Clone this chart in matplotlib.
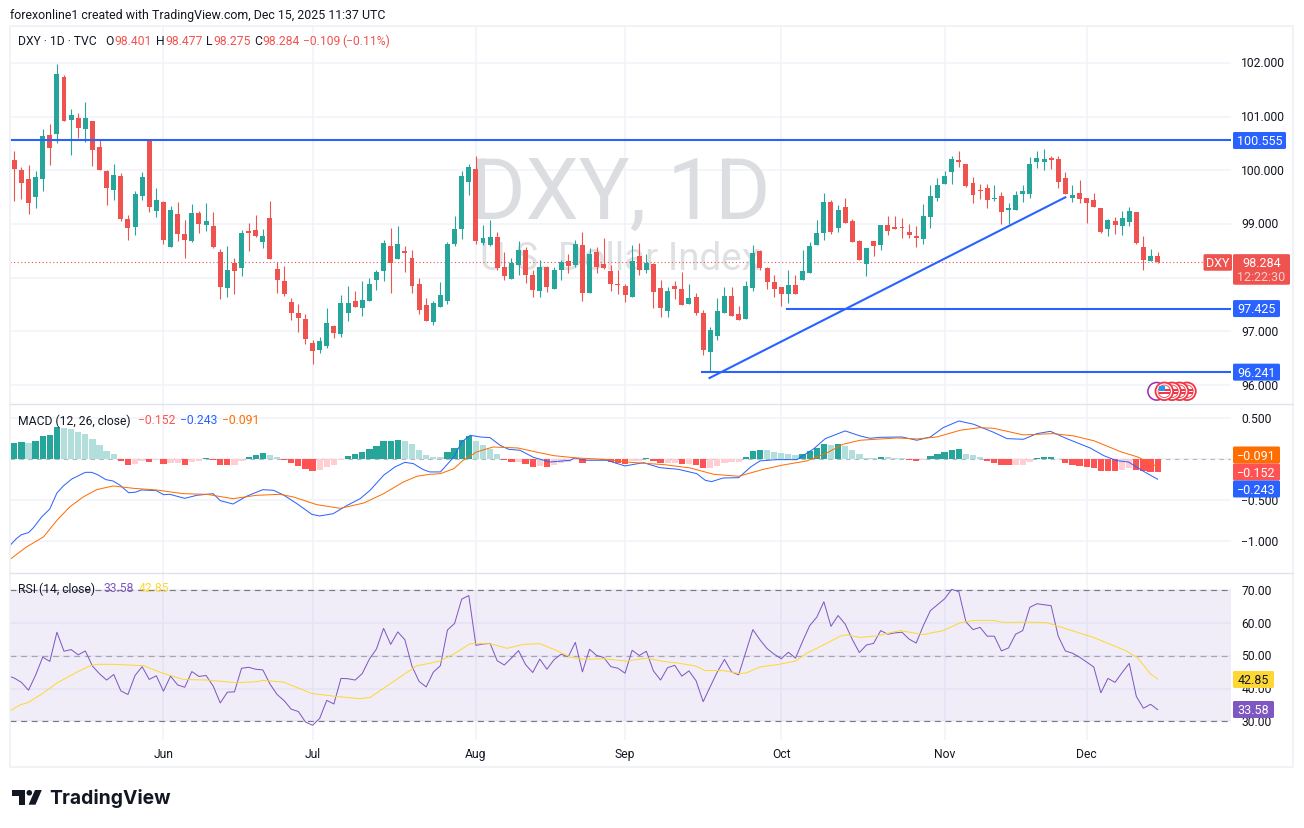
# -*- coding: utf-8 -*-
import numpy as np
import matplotlib
matplotlib.use('Agg')
from matplotlib import pyplot as plt
from matplotlib.patches import Rectangle, FancyBboxPatch, Circle, Polygon

plt.rcParams['font.family'] = ['Roboto', 'DejaVu Sans']

###图幅（像素）
W, H = 1304, 829
DPI = 100

###日线 OHLC
opens = [100.19,100.0,99.84,99.50,99.84,100.66,100.68,101.74,100.94,100.98,
         100.77,100.92,100.43,99.99,99.63,99.89,99.09,98.94,99.52,100.57,
         99.24,99.41,98.57,99.19,98.81,98.68,99.20,98.98,98.96,98.48,
         97.81,98.27,98.18,98.87,98.89,98.66,99.11,98.16,97.94,97.55,
         97.34,97.23,96.78,96.65,96.73,97.10,96.95,97.34,97.56,97.43,
         97.57,97.95,98.13,98.59,98.35,98.50,98.37,97.88,97.49,97.18,
         97.45,97.57,98.63,98.91,99.78,100.02,98.65,98.61,98.76,98.20,
         97.98,98.24,98.52,98.05,97.75,98.20,97.79,98.14,98.31,98.24,
         98.61,97.71,98.48,98.25,98.12,97.88,97.84,97.64,98.40,98.14,
         98.25,97.80,97.38,97.85,97.79,97.51,97.64,97.34,96.62,96.91,
         97.34,97.66,97.32,97.23,97.81,98.50,98.18,97.92,97.83,97.70,
         97.86,97.96,98.08,98.61,98.83,99.41,98.92,99.32,99.05,98.68,
         98.25,98.68,98.61,98.98,98.92,98.94,98.85,98.76,98.72,99.13,
         99.48,99.75,99.97,100.19,100.12,99.76,99.63,99.67,99.46,99.52,
         99.26,99.26,99.56,99.56,100.16,100.16,100.21,100.21,99.85,99.48,
         99.58,99.48,99.45,99.30,98.91,99.05,98.96,99.04,99.22,98.57,
         98.31,98.401]
highs = [100.35,100.06,100.10,99.99,100.77,100.86,101.98,101.78,101.14,101.07,
         101.27,100.92,100.58,100.01,100.12,99.95,99.17,99.61,99.97,100.57,
         99.67,99.43,99.34,99.41,99.07,99.37,99.24,99.39,99.22,98.53,
         98.59,98.37,98.89,99.02,99.17,98.91,99.43,98.29,98.22,97.62,
         97.51,97.32,96.84,96.90,97.43,97.12,97.68,97.84,97.75,97.94,
         98.00,98.14,98.70,98.92,98.96,98.59,98.52,98.00,97.62,97.57,
         97.92,98.66,99.15,99.99,100.12,100.27,98.98,99.07,98.85,98.48,
         98.37,98.68,98.57,98.14,98.33,98.22,98.20,98.33,98.44,98.70,
         98.85,98.55,98.57,98.74,98.23,98.14,97.88,98.61,98.65,98.44,
         98.27,97.96,97.83,97.94,98.11,97.88,97.71,97.40,97.09,97.62,
         97.83,97.83,97.47,97.94,98.61,98.52,98.20,98.05,97.83,98.14,
         98.05,98.51,98.66,99.07,99.57,99.45,99.35,99.48,99.09,98.70,
         98.55,98.68,98.98,99.15,99.15,99.11,99.00,98.96,99.37,99.72,
         99.85,99.98,100.27,100.36,100.12,99.87,99.74,99.74,99.72,99.59,
         99.40,99.61,99.72,100.24,100.36,100.39,100.27,100.27,99.97,99.72,
         99.82,99.48,99.58,99.30,99.09,99.13,99.24,99.32,99.22,98.78,
         98.53,98.477]
lows = [99.42,99.47,99.19,99.30,99.61,100.10,100.51,100.92,100.29,100.60,
        100.53,100.08,100.01,99.35,99.45,99.06,98.70,98.80,99.45,99.22,
        99.13,98.63,98.57,98.68,98.37,98.66,98.83,98.87,98.55,97.60,
        97.64,97.70,98.03,98.50,98.76,98.55,98.35,97.71,97.66,97.21,
        96.99,96.77,96.39,96.60,96.69,96.88,96.89,97.19,97.45,97.29,
        97.57,97.77,97.94,97.71,98.35,98.10,97.71,97.32,97.19,97.12,
        97.45,97.51,98.59,98.72,99.54,98.63,98.61,98.59,98.14,97.96,
        97.98,98.05,97.90,97.64,97.64,97.73,97.79,97.96,98.09,98.20,
        97.56,97.71,98.09,98.16,97.75,97.70,97.55,97.64,98.05,98.08,
        97.44,97.27,97.27,97.61,97.49,97.51,97.30,96.56,96.24,96.84,
        97.34,97.28,97.21,97.23,97.75,98.14,97.79,97.64,97.47,97.53,
        97.70,97.96,98.08,98.61,98.70,98.81,98.85,99.01,98.66,98.33,
        98.03,98.40,98.51,98.79,98.91,98.74,98.74,98.57,98.62,98.92,
        99.42,99.74,99.74,100.06,99.68,99.40,99.46,99.30,99.43,99.00,
        99.00,99.26,99.41,99.48,100.04,100.00,100.03,99.67,99.56,99.41,
        99.39,99.02,99.32,98.84,98.78,98.81,98.79,98.96,98.62,98.14,
        98.31,98.275]
closes = [100.02,99.76,99.39,99.88,100.64,100.42,101.80,100.92,101.03,100.79,
          100.98,100.38,100.01,99.67,99.91,99.09,98.93,99.56,99.88,99.32,
          99.45,98.70,99.26,98.81,98.70,99.20,99.00,99.06,98.57,97.83,
          98.14,98.12,98.83,98.83,98.78,98.78,98.35,97.96,97.70,97.34,
          97.25,96.86,96.63,96.82,97.15,96.97,97.53,97.53,97.45,97.58,
          97.88,98.10,98.65,98.27,98.63,98.46,97.84,97.40,97.19,97.53,
          97.68,98.63,98.91,99.89,100.06,98.68,98.74,98.76,98.18,98.03,
          98.27,98.52,98.05,97.77,98.20,97.83,98.14,98.29,98.22,98.63,
          97.71,98.44,98.20,98.18,97.88,97.86,97.68,98.31,98.14,98.27,
          97.73,97.44,97.75,97.79,97.49,97.62,97.34,96.65,97.03,97.38,
          97.66,97.28,97.21,97.84,98.46,98.18,97.92,97.79,97.70,97.86,
          97.70,98.12,98.59,98.83,99.41,98.85,99.26,99.01,98.66,98.33,
          98.55,98.59,98.98,98.87,98.91,98.92,98.79,98.74,99.15,99.52,
          99.72,99.89,100.21,100.15,99.70,99.54,99.61,99.45,99.48,99.22,
          99.28,99.54,99.61,100.12,100.23,100.21,100.19,99.78,99.56,99.54,
          99.47,99.39,99.32,98.85,99.07,98.98,99.11,99.24,98.64,98.33,
          98.40,98.284]

###MACD 柱
histVals = [.203,.215,.203,.228,.289,.301,.398,.386,.374,.337,
            .313,.252,.179,.106,.069,-.016,-.065,-.053,-.016,-.028,
            -.012,-.053,-.041,-.049,-.065,-.028,-.016,.020,-.012,-.065,
            -.073,-.065,-.016,.033,.057,.081,.057,.033,-.012,-.049,
            -.085,-.114,-.138,-.126,-.093,-.065,-.008,.045,.069,.093,
            .130,.167,.228,.228,.240,.228,.183,.110,.049,.033,
            .033,.093,.142,.240,.289,.228,.179,.130,.069,-.008,
            -.028,-.028,-.053,-.089,-.077,-.089,-.073,-.041,-.028,-.012,
            -.041,-.008,-.008,-.012,-.028,-.041,-.053,-.020,-.016,.020,
            -.020,-.049,-.049,-.045,-.053,-.053,-.065,-.102,-.102,-.077,
            -.041,-.028,-.028,.033,.106,.118,.118,.093,.081,.069,
            .057,.069,.106,.142,.191,.179,.191,.167,.118,.069,
            .020,.016,.033,.033,.020,.016,-.008,-.016,-.008,.045,
            .069,.093,.118,.130,.069,.057,.033,-.016,-.041,-.065,
            -.073,-.073,-.065,-.028,.020,.033,.033,0,-.045,-.065,
            -.077,-.093,-.102,-.138,-.138,-.138,-.126,-.102,-.130,-.146,
            -.150,-.152]
###1=深色 0=浅色
histDark = [1,1,0,1,1,1,1,0,0,0, 0,0,0,0,0,1,1,0,0,1,
            0,1,0,0,1,0,0,1,1,1, 1,0,0,1,1,1,0,0,1,1,
            1,1,1,0,0,0,0,1,1,1, 1,1,1,1,1,0,0,0,0,0,
            0,1,1,1,1,0,0,0,0,1, 1,0,1,1,0,1,0,0,0,0,
            1,0,0,1,1,1,1,0,0,1, 1,1,0,0,1,0,1,1,0,0,
            0,0,0,1,1,1,0,0,0,0, 0,1,1,1,1,0,1,0,0,0,
            0,0,1,0,0,0,1,1,0,1, 1,1,1,1,0,0,0,1,1,1,
            1,0,0,0,1,1,1,0,1,1, 1,1,1,1,1,1,0,0,1,1,
            1,1]

###MACD 线、信号线的折点
macdDays = [-0.6,0.3,1,2,2.7,3.85,5,6,6.9,8.1,10,10.9,11.8,12.9,13.9,14.9,16.1,17,17.9,20,
            21,21.9,24,25.7,28,29,30.8,32.7,35,36.5,37.9,39.8,41.9,43,44.9,46.8,48.7,50.1,52,53.6,
            55,56.2,57.6,58.5,60,61.9,63,64.2,65.6,67,68.4,69.6,71.2,73.1,75.4,78.3,78.9,80.6,83.4,86,
            88.6,90.9,93.5,96.1,97.3,98.2,99.8,102,103.7,105,107.4,110.2,112.6,114.2,117,119.1,120.5,121.9,125,127.1,
            129,130.8,133,135.1,137.9,139.8,142.1,144,145.9,148.2,151.5,153.4,155.2,156.9,159,161]
macdVals = [-1.049,-.967,-.919,-.894,-.833,-.703,-.606,-.411,-.325,-.240,-.159,-.159,-.191,-.248,-.264,-.317,-.407,-.402,-.374,-.382,
            -.431,-.427,-.476,-.439,-.419,-.504,-.545,-.451,-.370,-.378,-.435,-.541,-.671,-.691,-.663,-.565,-.480,-.378,-.195,-.093,
            -.037,-.053,-.126,-.154,-.154,.028,.211,.293,.272,.264,.171,.122,.110,.024,-.033,-.012,.016,-.012,-.012,-.081,
            -.041,-.102,-.122,-.175,-.256,-.272,-.228,-.224,-.093,-.020,-.004,-.004,.130,.252,.346,.285,.256,.268,.272,.232,
            .272,.386,.467,.427,.329,.252,.244,.313,.341,.252,.138,.045,-.016,-.033,-.146,-.243]
signalDays = [-0.6,1.7,4.1,6,7.8,9.7,11.6,13.9,16.8,20,23.8,27.1,30.8,34.1,37.4,39.3,42.6,45.9,49.2,52,
              54.8,56.7,58.5,60,61.9,63.2,65.1,67.4,70.9,73.5,75.9,79.2,83,86.8,91.5,95.2,98.5,102,105.5,108.3,
              111.6,114.4,116.7,119.1,120.5,124.3,127.1,129.9,133.2,135.9,137.9,142.1,146.3,149.2,152.1,155.9,158.2,161]
signalVals = [-1.220,-1.069,-.947,-.744,-.581,-.459,-.370,-.325,-.354,-.374,-.419,-.427,-.480,-.439,-.427,-.459,-.553,-.598,-.533,-.419,
              -.276,-.207,-.183,-.175,-.114,-.012,.089,.150,.138,.089,.045,.016,0,-.037,-.065,-.106,-.183,-.207,-.122,-.069,
              -.020,.077,.183,.232,.240,.260,.248,.272,.354,.386,.378,.297,.313,.285,.224,.089,.028,-.091]

###RSI，每日一个值，第一个是图左边界外的一天
rsiVals = [44.0,43.2,41.9,39.5,44.1,49.6,48.3,57.2,51.4,51.9,50.3,
           51.5,46.9,44.5,42.6,44.3,39.3,38.2,44.0,46.7,42.8,
           43.9,39.2,43.8,41.1,40.4,45.2,43.7,44.0,40.8,35.6,
           38.9,39.0,46.2,46.5,45.9,45.7,41.4,38.2,36.3,33.7,
           33.0,29.8,28.8,30.9,36.4,35.3,43.1,43.0,42.6,44.6,
           49.0,52.1,58.4,53.5,57.3,54.9,46.8,42.2,40.5,45.0,
           47.0,57.9,59.9,67.3,68.4,53.2,53.6,53.8,48.5,47.2,
           49.3,51.6,47.3,44.9,49.0,45.9,48.8,50.5,49.7,54.1,
           45.1,52.0,50.1,49.5,46.7,46.2,44.7,51.7,50.1,51.4,
           45.4,42.6,46.4,47.1,43.8,45.4,42.4,36.0,40.6,45.1,
           48.9,45.1,44.2,51.1,58.0,54.9,52.2,50.5,49.1,51.1,
           49.3,54.4,59.2,61.8,66.5,59.0,62.3,59.7,55.0,51.0,
           53.3,53.8,57.7,56.6,57.0,57.2,55.1,53.9,59.2,63.8,
           65.6,67.4,70.3,69.6,60.4,58.0,58.7,56.0,56.0,51.5,
           52.4,56.6,57.7,64.8,65.9,65.6,65.3,56.0,51.5,50.8,
           49.6,48.1,46.6,38.7,43.1,41.9,44.9,47.7,37.6,34.0,
           35.2,33.58]
###RSI 均线折点
rsiMaDays = [-0.6,0.8,2,3.85,6,8.8,10.7,11.8,13.9,18.2,20.5,23.8,27.1,31.3,34.1,35,37.9,41.9,44.9,48.7,
             50.1,53.9,56.7,58.5,60,61.9,64.2,67,69.4,71.7,74,76.4,78.3,80.2,83,86.2,89.1,91.4,93.7,95.9,
             97.3,99.8,102,103,105,107.4,110,111.6,114.2,116.3,117.2,119.1,121.5,124.7,128,130.8,133.2,135.1,137.9,139.3,
             142.6,145.4,147.3,152,156.7,158.2,160,161]
rsiMaVals = [33.2,35.0,35.8,38.3,41.7,45.0,47.0,47.4,47.4,47.0,45.0,42.8,42.6,41.8,42.1,42.5,42.0,38.5,37.7,36.9,
             37.3,42.9,47.0,47.7,48.5,50.6,53.7,53.7,52.3,53.5,53.7,51.6,49.6,48.9,49.1,48.4,49.3,48.3,47.7,46.9,
             45.5,45.5,44.6,44.7,46.6,47.3,48.4,50.8,53.6,56.0,56.4,55.6,56.1,57.7,56.5,57.7,60.1,60.8,60.8,60.2,
             60.3,60.1,58.8,55.6,51.4,49.3,44.5,42.85]

###月份刻度
monthDays = [21, 42, 65, 86, 108, 131, 151]
monthLabels = ['Jun', 'Jul', 'Aug', 'Sep', 'Oct', 'Nov', 'Dec']

priceTicks = [96, 97, 98, 99, 100, 101, 102]
priceShown = ['96.000', '97.000', '', '99.000', '100.000', '101.000', '102.000']
macdTicks = [-1.0, -0.5, 0.0, 0.5]
macdShown = ['\u22121.000', '\u22120.500', '', '0.500']
rsiTicks = [30, 40, 50, 60, 70]
rsiShown = ['30.00', '40.00', '50.00', '60.00', '70.00']

###画线工具的位置
resistance = 100.555
support1 = 97.425
support2 = 96.241
lastPrice = 98.284
trendDays = [97.9, 148.0]
trendPrices = [96.132, 99.497]

GREEN, RED, BLUE = '#26a69a', '#ef5350', '#2962ff'
INK, GRID = '#131722', '#f0f3fa'
FS = 8.7


def paneAxes(fig, top, bottom, ylim):
    ###按像素位置建一个窗格
    ax = fig.add_axes([10/W, 1-bottom/H, (1231.5-10)/W, (bottom-top)/H])
    ax.set_xlim(-0.606, 171.4)
    ax.set_ylim(*ylim)
    for s in ax.spines.values():
        s.set_visible(False)
    ax.yaxis.tick_right()
    ax.tick_params(axis='both', length=0, labelsize=FS, labelcolor=INK)
    ax.tick_params(axis='y', pad=7)
    ax.set_xticks(monthDays)
    ax.set_xticklabels([])
    ax.grid(True, color=GRID, lw=1.1, zorder=0)
    ax.set_axisbelow(True)
    return ax


def drawCandles(ax):
    days = np.arange(len(opens))
    o, h, l, c = map(np.array, (opens, highs, lows, closes))
    cols = np.where(c >= o, GREEN, RED)
    ax.vlines(days, l, h, colors=cols, lw=0.8, zorder=4)
    body = np.maximum(np.abs(c-o), 0.03)
    ax.bar(days, body, bottom=np.minimum(o, c), width=0.7, color=cols, lw=0, zorder=4)


def tag(over, x0, x1, y0, y1, face, label, color='white'):
    ###右侧价格标签
    over.add_patch(FancyBboxPatch((x0+1, y0+1), x1-x0-2, y1-y0-2, boxstyle='round,pad=1,rounding_size=1.5',
                                  fc=face, ec='none', zorder=10))
    over.text((x0+x1)/2, (y0+y1)/2+0.3, label, color=color, fontsize=FS+0.3, ha='center', va='center', zorder=11)


def valueY(ax, v):
    ###数据值转像素 y
    return H - ax.transData.transform((0, v))[1]


def legendRow(over, y, items):
    for x, s, col in items:
        over.text(x, y, s, color=col, fontsize=FS, ha='left', va='center', zorder=9)


fig = plt.figure(figsize=(W/DPI, H/DPI), dpi=DPI, facecolor='white')

###主图
ax1 = paneAxes(fig, 27, 405, (95.648, 102.687))
ax1.set_yticks(priceTicks)
ax1.set_yticklabels(priceShown, va='center')
ax1.text(85.3, 99.56, 'DXY, 1D', fontsize=61, color='#dcdde0', ha='center', va='center', zorder=1)
ax1.text(85.3, 98.36, 'U.S. Dollar Index', fontsize=27.8, color='#dfe0e3', ha='center', va='center', zorder=1)
drawCandles(ax1)
ax1.axhline(lastPrice, color=RED, lw=0.8, ls=(0, (1, 2.2)), zorder=3)
ax1.axhline(resistance, color=BLUE, lw=1.5, zorder=5)
ax1.plot([108.8, 171.4], [support1, support1], color=BLUE, lw=1.5, zorder=5)
ax1.plot([96.9, 171.4], [support2, support2], color=BLUE, lw=1.5, zorder=5)
ax1.plot(trendDays, trendPrices, color=BLUE, lw=1.5, zorder=5)

###MACD 窗格
ax2 = paneAxes(fig, 405.5, 573.5, (-1.380, 0.668))
ax2.set_yticks(macdTicks)
ax2.set_yticklabels(macdShown, va='center')
histCols = []
for v, d in zip(histVals, histDark):
    if v >= 0:
        histCols.append('#26a69a' if d else '#b2dfdb')
    else:
        histCols.append('#ff5252' if d else '#ffcdd2')
ax2.bar(np.arange(len(histVals)), histVals, width=0.88, color=histCols, lw=0, zorder=2)
ax2.axhline(0, color='#787b86', alpha=0.5, lw=0.8, ls=(0, (4, 4)), zorder=1)
ax2.plot(macdDays, macdVals, color=BLUE, lw=0.72, zorder=3)
ax2.plot(signalDays, signalVals, color='#ff6d00', lw=0.72, zorder=4)

###RSI 窗格
ax3 = paneAxes(fig, 575, 741, (24.3, 74.98))
ax3.set_yticks(rsiTicks)
ax3.set_yticklabels(rsiShown, va='center')
ax3.axhspan(30, 70, color='#7e57c2', alpha=0.1, lw=0, zorder=1)
ax3.set_xticklabels(monthLabels)
ax3.tick_params(axis='x', pad=5)
for v, a in ((70, 1.0), (50, 0.6), (30, 1.0)):
    ax3.axhline(v, color='#787b86', alpha=a, lw=0.85, ls=(0, (5, 4)), zorder=2)
ax3.plot(np.arange(-1, len(rsiVals)-1), rsiVals, color='#7e57c2', lw=0.72, zorder=3)
ax3.plot(rsiMaDays, rsiMaVals, color='#fdd835', lw=0.72, zorder=4)

###像素坐标的覆盖层：边框、文字、标签、logo
over = fig.add_axes([0, 0, 1, 1], zorder=20)
over.set_xlim(0, W)
over.set_ylim(H, 0)
over.axis('off')
over.patch.set_alpha(0)

over.add_patch(Rectangle((10, 27), 1283, 741, fc='none', ec='#eff1f5', lw=1.3, zorder=1))
over.plot([10, 1293], [405, 405], color='#e0e3eb', lw=1.0, zorder=1)
over.plot([10, 1293], [573.7, 573.7], color='#e0e3eb', lw=1.0, zorder=1)

over.text(10, 15, 'forexonline1 created with TradingView.com, Dec 15, 2025 11:37 UTC', color=INK,
          fontsize=8.9, ha='left', va='center')

legendRow(over, 41.5, [(18, 'DXY \u00b7 1D \u00b7 TVC', INK),
                       (105, 'O', INK), (114, '98.401', RED),
                       (156, 'H', INK), (165, '98.477', RED),
                       (206, 'L', INK), (213, '98.275', RED),
                       (254, 'C', INK), (262, '98.284', RED),
                       (303, '\u22120.109', RED), (342, '(\u22120.11%)', RED)])
legendRow(over, 421, [(18, 'MACD (12, 26, close)', INK),
                      (138, '\u22120.152', '#ff5252'),
                      (180, '\u22120.243', BLUE),
                      (222, '\u22120.091', '#ff6d00')])
legendRow(over, 589, [(18, 'RSI (14, close)', INK),
                      (103, '33.58', '#7e57c2'),
                      (139, '42.85', '#fdd835')])

###标签
yr = valueY(ax1, resistance)
tag(over, 1233, 1286, yr-8.5, yr+8.5, BLUE, '100.555')
ys = valueY(ax1, support1)
tag(over, 1233, 1280, ys-8.5, ys+8.5, BLUE, '97.425')
ys = valueY(ax1, support2)
tag(over, 1233, 1280, ys-8.5, ys+8.5, BLUE, '96.241')
yl = valueY(ax1, lastPrice)
tag(over, 1203.5, 1232, yl-8.3, yl+8.3, RED, 'DXY')
over.add_patch(FancyBboxPatch((1234, yl-7.3), 55, 28.6, boxstyle='round,pad=1,rounding_size=1.5', fc=RED, ec='none', zorder=10))
over.text(1261.5, yl+0.3, '98.284', color='white', fontsize=FS+0.3, ha='center', va='center', zorder=11)
over.text(1261.5, yl+14, '12:22:30', color='#fbcdcc', fontsize=FS+0.3, ha='center', va='center', zorder=11)

tag(over, 1233, 1280, 447.5, 464.5, '#ff6d00', '\u22120.091')
tag(over, 1233, 1280, 464.5, 481.5, '#ff5252', '\u22120.152')
tag(over, 1233, 1280, 481.5, 498.5, BLUE, '\u22120.243')
tag(over, 1233, 1274, 672, 689, '#fdd835', '42.85', color=INK)
tag(over, 1233, 1274, 702, 719, '#7e57c2', '33.58')

###财经事件图标
over.add_patch(Circle((1156.7, 392.3), 8.8, fc='white', ec='#9c27b0', lw=1.1, zorder=12))
for i, cx in enumerate([1187, 1179.5, 1172, 1164.3]):
    over.add_patch(Circle((cx, 392.3), 8.8, fc='white', ec='#f23645', lw=1.3, zorder=13+i))
    over.add_patch(Circle((cx, 392.3), 6.2, fc='white', ec='#f23645', lw=0.6, zorder=13+i))
    for dy in (-1.8, 2.0):
        over.add_patch(Rectangle((cx-5.6, 392.3+dy-1), 11.2, 2, fc='#f23645', ec='none', zorder=13+i))
over.add_patch(Rectangle((1159.2, 387.4), 5.6, 5, fc='#2196f3', ec='none', zorder=17))

###TradingView logo
over.add_patch(Polygon([(12.3, 791), (25, 791), (25, 805.7), (18.5, 805.7), (18.5, 796.7), (12.3, 796.7)], fc=INK, ec='none'))
over.add_patch(Circle((29.3, 793.8), 2.8, fc=INK, ec='none'))
over.add_patch(Polygon([(35, 791), (41.8, 791), (35.5, 805.7), (28.6, 805.7)], fc=INK, ec='none'))
over.text(49.5, 799, 'TradingView', color=INK, fontsize=13.9, fontweight='bold', family=['Inter', 'DejaVu Sans'],
          ha='left', va='center')

fig.savefig('out.png', dpi=DPI, facecolor='white')
